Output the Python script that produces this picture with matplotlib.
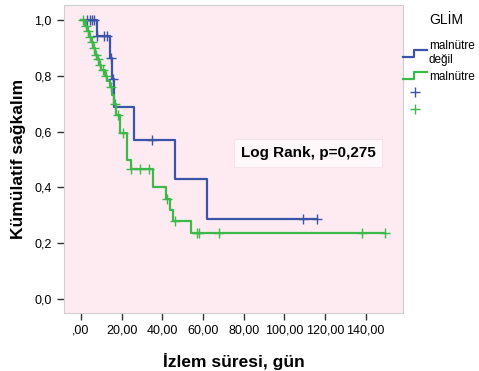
import numpy as np
import matplotlib
matplotlib.use("Agg")
import matplotlib.pyplot as plt
from matplotlib.lines import Line2D
from matplotlib.legend_handler import HandlerBase

plt.rcParams['font.family'] = ['Liberation Sans', 'DejaVu Sans']

# Kaplan-Meier basamaklari (okunan degerler)
mal_degil_t = [0, 8, 14, 15, 16, 26, 46, 62, 116]
mal_degil_s = [1.0, 0.944, 0.865, 0.787, 0.687, 0.57, 0.43, 0.287, 0.287]
mal_degil_cens = [3, 4.5, 5.5, 6.5, 8, 11.5, 13, 14.5, 15.5, 35, 109, 116]

mal_t = [0, 2, 3, 4, 5, 6, 7, 8, 9, 10, 12, 13, 14, 15, 16, 17, 19, 22.5, 24.5,
         35.5, 42, 44, 45, 54, 149.6]
mal_s = [1.0, 0.98, 0.96, 0.94, 0.92, 0.90, 0.875, 0.86, 0.84, 0.82, 0.80, 0.78,
         0.76, 0.73, 0.70, 0.66, 0.595, 0.50, 0.466, 0.40, 0.36, 0.32, 0.28, 0.236, 0.236]
mal_cens = [1, 2.5, 3.5, 4.5, 5.5, 6.5, 7.5, 8.5, 9.5, 11, 12.5, 14.5, 16.5, 18,
            20.5, 24.5, 29, 33.5, 42.5, 46, 57, 58, 68, 138, 149.6]

xticks = [0, 20, 40, 60, 80, 100, 120, 140]
xtick_labels = [",00", "20,00", "40,00", "60,00", "80,00", "100,00", "120,00", "140,00"]
yticks = [0.0, 0.2, 0.4, 0.6, 0.8, 1.0]
ytick_labels = ["0,0", "0,2", "0,4", "0,6", "0,8", "1,0"]

blue = "#3c53aa"
green = "#3cb94a"


def km_at(t, s, c):
    idx = np.searchsorted(np.array(t), np.array(c), side="right") - 1
    return np.array(s)[idx]


class StepHandler(HandlerBase):
    def create_artists(self, legend, orig_handle, xdescent, ydescent,
                       width, height, fontsize, trans):
        xs = np.array([0, 0.45, 0.45, 1.0]) * width - xdescent
        ys = np.array([0.1, 0.1, 0.9, 0.9]) * height - ydescent
        ln = Line2D(xs, ys, color=orig_handle.get_color(), lw=orig_handle.get_linewidth())
        ln.set_transform(trans)
        return [ln]


fig = plt.figure(figsize=(4.79, 3.71), dpi=100)
ax = fig.add_axes([64 / 479, 58 / 371, 339 / 479, 308 / 371])
ax.set_facecolor("#fdebf1")

l1, = ax.step(mal_degil_t, mal_degil_s, where="post", color=blue, lw=1.6)
l2, = ax.step(mal_t, mal_s, where="post", color=green, lw=1.6)
c1, = ax.plot(mal_degil_cens, km_at(mal_degil_t, mal_degil_s, mal_degil_cens), "+",
              color=blue, ms=7, mew=1)
c2, = ax.plot(mal_cens, km_at(mal_t, mal_s, mal_cens), "+", color=green, ms=7, mew=1)

ax.set_xlim(-8.4, 158.4)
ax.set_ylim(-0.05, 1.054)
ax.set_xticks(xticks)
ax.set_xticklabels(xtick_labels)
ax.set_yticks(yticks)
ax.set_yticklabels(ytick_labels)
ax.tick_params(length=5, width=1, color="#333333", labelsize=9, pad=3)
ax.tick_params(axis="y", pad=4)
for sp in ax.spines.values():
    sp.set_color("#cfcfcf")

ax.set_xlabel("İzlem süresi, gün", fontsize=12.5, fontweight="bold", labelpad=12)
ax.set_ylabel("Kümülatif sağkalım", fontsize=12.5, fontweight="bold", labelpad=6)

ax.text(111.7, 0.523, "Log Rank, p=0,275", fontsize=11, fontweight="bold",
        ha="center", va="center",
        bbox=dict(boxstyle="square,pad=0.45", fc="#fff8fb", ec="#f3e3ea", lw=0.8))

fig.text(446 / 479, 1 - 20 / 371, "GLİM", fontsize=10, ha="center", va="center")
leg = fig.legend([l1, l2, c1, c2], ["malnütre\ndeğil", "malnütre", " ", " "],
                 handler_map={l1: StepHandler(), l2: StepHandler()},
                 loc="upper left", bbox_to_anchor=(401 / 479, 1 - 38 / 371),
                 fontsize=8.5, frameon=False,
                 handlelength=2.0, handletextpad=0.15, labelspacing=0.4,
                 borderaxespad=0, borderpad=0.2)

fig.savefig("out.png", dpi=100)
